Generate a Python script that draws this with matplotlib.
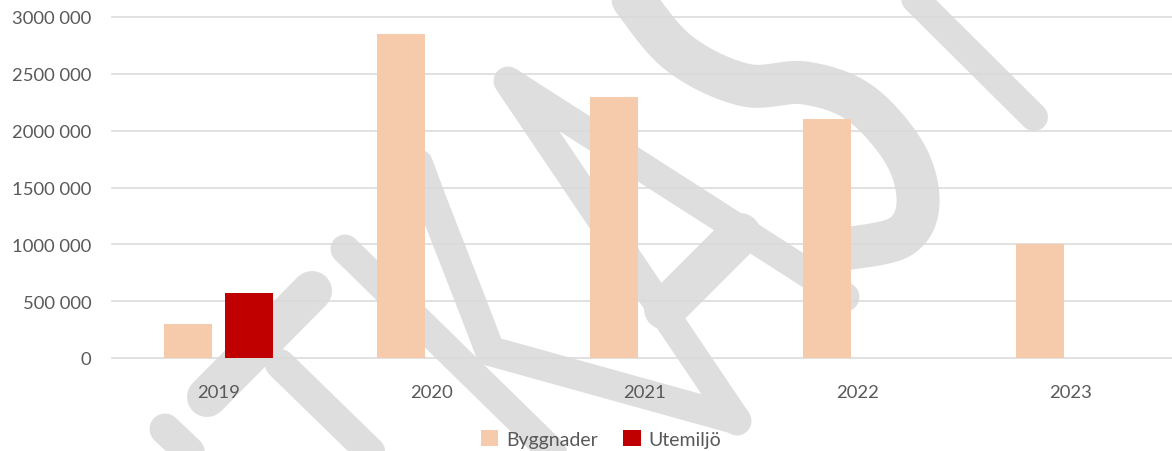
import numpy as np
import matplotlib.pyplot as plt
from matplotlib.lines import Line2D
from matplotlib.ticker import FuncFormatter, MultipleLocator

# data
years = ['2019', '2020', '2021', '2022', '2023']
byggnader = [300000, 2850000, 2300000, 2100000, 1000000]
utemiljo = [575000, 0, 0, 0, 0]
series_names = ['Byggnader', 'Utemiljö']
colors = ['#F6CBAC', '#C00000']

W, H = 1172, 452
plt.rcParams['font.family'] = ['Lato', 'DejaVu Sans']
txt = '#595959'

fig = plt.figure(figsize=(W / 100, H / 100), dpi=100)
fig.patch.set_facecolor('white')


def px(pts):
    # pixel coords (from top-left) -> figure fraction
    return [p[0] / W for p in pts], [1 - p[1] / H for p in pts]


def smooth(pts, n=12):
    # catmull-rom through the points, for the curved watermark stroke
    p = np.array(pts, dtype=float)
    p = np.vstack([p[0], p, p[-1]])
    out = []
    for i in range(1, len(p) - 2):
        p0, p1, p2, p3 = p[i - 1], p[i], p[i + 1], p[i + 2]
        for t in np.linspace(0, 1, n, endpoint=False):
            out.append(0.5 * (2 * p1 + (-p0 + p2) * t
                              + (2 * p0 - 5 * p1 + 4 * p2 - p3) * t ** 2
                              + (-p0 + 3 * p1 - 3 * p2 + p3) * t ** 3))
    out.append(p[-2])
    return [tuple(q) for q in out]


# watermark strokes behind the chart
wm = [
    ([(165, 430), (222, 484)], 31),
    ([(312, 292), (207, 398)], 40),
    ([(280, 365), (400, 482)], 30),
    ([(345, 250), (580, 480)], 29),
    ([(418, 165), (431, 200), (470, 300), (490, 352), (735, 420)], 30),
    ([(737, 422), (508, 82), (845, 298)], 29),
    ([(740, 235), (665, 310)], 42),
    (smooth([(600, -50), (633, 0), (680, 55), (745, 86), (805, 84),
             (860, 104), (905, 155), (918, 205), (900, 238), (845, 250)]), 43),
    ([(890, -25), (1034, 118)], 28),
]
for pts, w in wm:
    xs, ys = px(pts)
    fig.add_artist(Line2D(xs, ys, transform=fig.transFigure, color='#dedede',
                          linewidth=w * 0.72, solid_capstyle='round',
                          solid_joinstyle='round', zorder=-1))

ax = fig.add_axes([112 / W, (H - 359) / H, (1177.5 - 112) / W, (359 - 18) / H])
ax.set_facecolor('none')

x = np.arange(len(years))
off, bw = 0.1437, 0.224
ax.bar(x - off, byggnader, bw, color=colors[0], label=series_names[0], zorder=2)
ax.bar(x + off, utemiljo, bw, color=colors[1], label=series_names[1], zorder=2)

ax.set_xlim(-0.5, 4.5)
ax.set_ylim(0, 3000000)
ax.yaxis.set_major_locator(MultipleLocator(500000))


def fmt(v, pos):
    v = int(round(v))
    return f"{v // 1000} {v % 1000:03d}" if v >= 1000 else str(v)


ax.yaxis.set_major_formatter(FuncFormatter(fmt))
ax.set_xticks(x)
ax.set_xticklabels(years)
ax.tick_params(axis='both', length=0, labelsize=13.3, labelcolor=txt)
ax.tick_params(axis='y', pad=15)
ax.tick_params(axis='x', pad=19)
ax.yaxis.grid(True, color='#d9d9d9', linewidth=1.1)
ax.set_axisbelow(True)
for gl in ax.get_ygridlines():
    gl.set_clip_on(False)
for s in ax.spines.values():
    s.set_visible(False)

leg = fig.legend(loc='center', bbox_to_anchor=(601 / W, 1 - 440 / H), ncol=2,
                 frameon=False, fontsize=14, handlelength=0.9, handleheight=0.9,
                 handletextpad=0.4, columnspacing=1.3)
for t in leg.get_texts():
    t.set_color(txt)

fig.savefig('out.png', dpi=100, facecolor='white')
